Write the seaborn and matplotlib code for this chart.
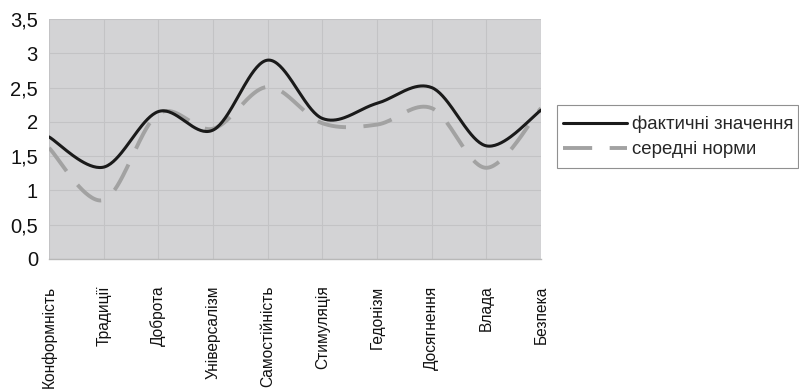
import numpy as np
import pandas as pd
import seaborn as sns
import matplotlib
matplotlib.use("Agg")
import matplotlib.pyplot as plt
from matplotlib.patches import Rectangle

categories = ["Конформність", "Традиції", "Доброта", "Універсалізм", "Самостійність",
              "Стимуляція", "Гедонізм", "Досягнення", "Влада", "Безпека"]
actual = [1.78, 1.34, 2.15, 1.88, 2.90, 2.05, 2.27, 2.50, 1.65, 2.17]
norms = [1.62, 0.86, 2.12, 1.90, 2.51, 1.98, 1.96, 2.20, 1.33, 2.20]
y_ticks = [0, 0.5, 1, 1.5, 2, 2.5, 3, 3.5]
y_labels = ["0", "0,5", "1", "1,5", "2", "2,5", "3", "3,5"]
label_actual = "фактичні значення"
label_norms = "середні норми"


def smooth(values, steps=40):
    """Smoothed curve through the points (cubic Bezier, Catmull-Rom control points)."""
    p = np.column_stack([np.arange(len(values)), values]).astype(float)
    ext = np.vstack([p[0], p, p[-1]])
    xs, ys = [], []
    t = np.linspace(0, 1, steps, endpoint=False)[:, None]
    for i in range(1, len(ext) - 2):
        p0, p1, p2, p3 = ext[i - 1], ext[i], ext[i + 1], ext[i + 2]
        c1 = p1 + (p2 - p0) / 6
        c2 = p2 - (p3 - p1) / 6
        b = ((1 - t) ** 3) * p1 + 3 * ((1 - t) ** 2) * t * c1 + 3 * (1 - t) * t ** 2 * c2 + t ** 3 * p2
        xs.append(b[:, 0]); ys.append(b[:, 1])
    xs.append([p[-1, 0]]); ys.append([p[-1, 1]])
    return np.concatenate(xs), np.concatenate(ys)


sns.set_theme(style="white")
plt.rcParams["font.family"] = ["Liberation Sans", "DejaVu Sans"]

W, H = 799, 392
fig = plt.figure(figsize=(W / 100, H / 100), dpi=100)
ax = fig.add_axes([49 / W, 1 - 259 / H, 492 / W, 240 / H])
ax.set_facecolor("#d3d3d5")

xa, ya = smooth(actual)
xn, yn = smooth(norms)
df_a = pd.DataFrame({"x": xa, "y": ya})
df_n = pd.DataFrame({"x": xn, "y": yn})

sns.lineplot(data=df_n, x="x", y="y", ax=ax, color="#a2a2a2", linewidth=2.8,
             sort=False, estimator=None, label=label_norms)
ax.lines[-1].set_dashes([7.5, 4.5])
ax.lines[-1].set_dash_capstyle("butt")
sns.lineplot(data=df_a, x="x", y="y", ax=ax, color="#1a1a1a", linewidth=2.2,
             sort=False, estimator=None, label=label_actual)

ax.set_xlim(0, len(categories) - 1)
ax.set_ylim(0, 3.5)
ax.set_xticks(range(len(categories)))
ax.set_xticklabels(categories, rotation=90, fontsize=11.2, color="#111111")
ax.set_yticks(y_ticks)
ax.set_yticklabels(y_labels, fontsize=14.5, color="#111111")
ax.set_xlabel("")
ax.set_ylabel("")

ax.grid(True, color="#c3c3c5", linewidth=0.8)
ax.set_axisbelow(True)
for side in ["top", "right", "left"]:
    ax.spines[side].set_visible(False)
ax.spines["bottom"].set_color("#b8b8b8")
ax.spines["bottom"].set_linewidth(1.0)
ax.tick_params(axis="x", length=5, width=0.8, color="#b8b8b8", pad=14)
ax.tick_params(axis="y", length=5, width=0.8, color="#b8b8b8", pad=3)

# legend box runs to the right edge of the figure
fig.patches.append(Rectangle((557 / W, 1 - 168 / H), 241 / W, 63 / H,
                             transform=fig.transFigure, fill=False,
                             edgecolor="#909090", linewidth=0.8))

handles, labels = ax.get_legend_handles_labels()
order = [labels.index(label_actual), labels.index(label_norms)]
leg = ax.legend([handles[i] for i in order], [labels[i] for i in order],
                loc="center left", bbox_to_anchor=(563 / W, 1 - 137 / H),
                bbox_transform=fig.transFigure,
                frameon=False, fontsize=13.4,
                handlelength=3.45, handletextpad=0.27, borderpad=0,
                labelspacing=0.45, borderaxespad=0)

fig.savefig("out.png", dpi=100)
